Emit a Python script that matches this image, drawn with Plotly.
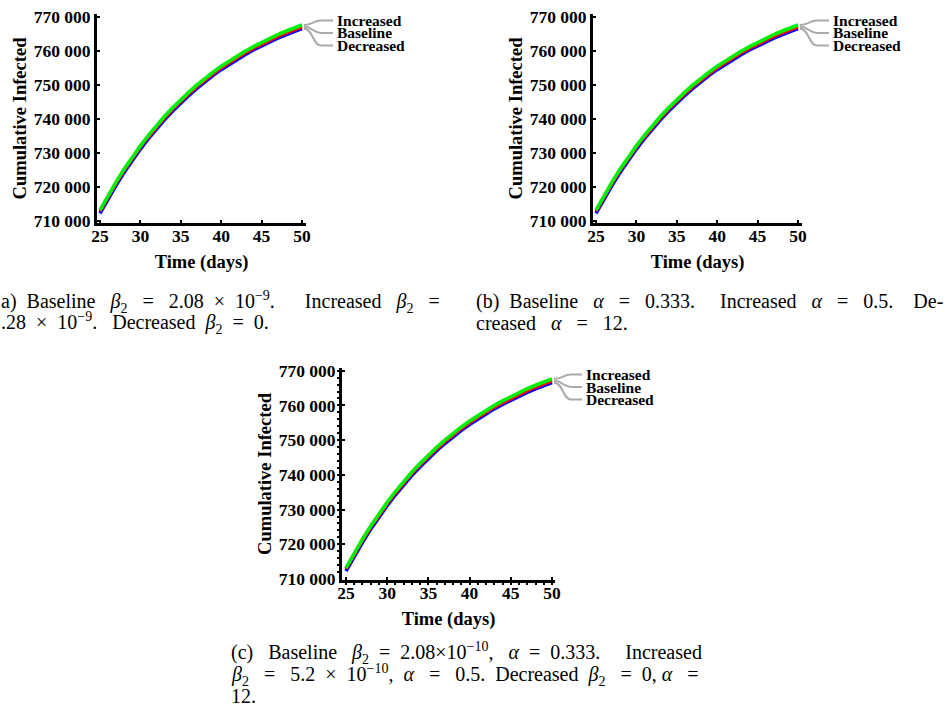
import plotly.graph_objects as go

# ---------------- data ----------------
days = list(range(25, 51))
increased = [713200, 717500, 721500, 725300, 728800, 732100, 735200, 738100, 740800, 743300,
             745700, 747900, 750000, 752000, 753800, 755500, 757100, 758600, 760000, 761300,
             762550, 763700, 764800, 765800, 766750, 767650]
baseline = [712900, 717200, 721200, 724980, 728470, 731760, 734850, 737740, 740430, 742920,
            745310, 747500, 749590, 751580, 753370, 755060, 756650, 758140, 759530, 760820,
            762060, 763200, 764290, 765280, 766220, 767110]
decreased = [712250, 716560, 720560, 724360, 727860, 731160, 734260, 737150, 739850, 742350,
             744740, 746940, 749030, 751030, 752830, 754520, 756120, 757610, 759010, 760300,
             761540, 762680, 763770, 764760, 765700, 766560]

series_names = ["Decreased", "Baseline", "Increased"]          # drawing order
series_values = {"Increased": increased, "Baseline": baseline, "Decreased": decreased}
series_colors = {"Increased": "#00ee00", "Baseline": "#ff0000", "Decreased": "#0000ff"}
label_order = ["Increased", "Baseline", "Decreased"]

x_ticks = [25, 30, 35, 40, 45, 50]
x_tick_labels = ["25", "30", "35", "40", "45", "50"]
y_ticks = [710000, 720000, 730000, 740000, 750000, 760000, 770000]
y_tick_labels = ["710 000", "720 000", "730 000", "740 000", "750 000", "760 000", "770 000"]
x_title = "Time (days)"
y_title = "Cumulative Infected"

# ---------------- layout geometry (pixels) ----------------
W, H = 949, 718
panels = [
    dict(left=97, right=306, top=14, bottom=223, xr=[24.63, 50.5], yr=[709412, 770882], minor=False),
    dict(left=593, right=802, top=14, bottom=223, xr=[24.63, 50.5], yr=[709412, 770882], minor=False),
    dict(left=342, right=555, top=368, bottom=580, xr=[24.515, 50.364], yr=[709712, 770778], minor=True),
]

N = "\u00a0"


def s(n):
    return " " + N * n


b2 = "<i>β</i><sub>2</sub>"
al = "<i>α</i>"
captions = [
    (0, [301.5, 323], [
        f"a){s(1)}Baseline{s(2)}{b2}{s(2)}={s(2)}2.08{s(1)}×{s(1)}10<sup>−9</sup>.{s(5)}Increased{s(2)}{b2}{s(2)}=",
        f".28{s(1)}×{s(1)}10<sup>−9</sup>.{s(2)}Decreased{s(1)}{b2}{s(1)}={s(1)}0.",
    ]),
    (475, [301.5, 323], [
        f"(b){s(1)}Baseline{s(2)}{al}{s(2)}={s(2)}0.333.{s(4)}Increased{s(2)}{al}{s(2)}={s(2)}0.5.{s(3)}De-",
        f"creased{s(2)}{al}{s(2)}={s(2)}12.",
    ]),
    (230, [653, 675, 696], [
        f"(c){s(2)}Baseline{s(2)}{b2}{s(1)}={s(1)}2.08×10<sup>−10</sup>,{s(2)}{al}{s(1)}={s(1)}0.333.{s(4)}Increased",
        f"{b2}{s(2)}={s(2)}5.2{s(1)}×{s(1)}10<sup>−10</sup>,{s(1)}{al}{s(2)}={s(2)}0.5.{s(1)}Decreased{s(1)}{b2}{s(2)}={s(1)}0,{s(0)}{al}{s(2)}=",
        "12.",
    ]),
]

bold = dict(family="Liberation Serif", color="black", weight="bold")

fig = go.Figure()
layout = dict(
    width=W, height=H, margin=dict(l=0, r=0, t=0, b=0, autoexpand=False),
    paper_bgcolor="white", plot_bgcolor="white", showlegend=False,
    annotations=[], shapes=[],
)


def px_x(p, xv):
    return p["left"] + (xv - p["xr"][0]) / (p["xr"][1] - p["xr"][0]) * (p["right"] - p["left"])


def px_y(p, yv):
    return p["bottom"] - (yv - p["yr"][0]) / (p["yr"][1] - p["yr"][0]) * (p["bottom"] - p["top"])


# check whether a negative tick-label standoff is accepted
try:
    go.layout.XAxis(ticklabelstandoff=-5)
    x_standoff = dict(ticklabelstandoff=-5)
except Exception:
    x_standoff = {}

for i, p in enumerate(panels):
    k = "" if i == 0 else str(i + 1)
    for name in series_names:
        fig.add_trace(go.Scatter(
            x=days, y=series_values[name], mode="lines", name=name,
            line=dict(color=series_colors[name], width=3.6),
            xaxis="x" + k, yaxis="y" + k, hoverinfo="x+y+name",
        ))
    common = dict(showline=True, linewidth=3, linecolor="black", ticks="inside", ticklen=3,
                  tickwidth=2, tickcolor="black", showgrid=False, zeroline=False,
                  automargin=False, tickfont=dict(bold, size=17.5))
    xa = dict(common, domain=[p["left"] / W, p["right"] / W], range=p["xr"], anchor="y" + k,
              tickvals=x_ticks, ticktext=x_tick_labels,
              title=dict(text=x_title, font=dict(bold, size=18.5), standoff=11), **x_standoff)
    ya = dict(common, domain=[1 - p["bottom"] / H, 1 - p["top"] / H], range=p["yr"], anchor="x" + k,
              tickvals=y_ticks, ticktext=y_tick_labels,
              title=dict(text=y_title, font=dict(bold, size=18.5), standoff=3))
    if p["minor"]:
        xa["minor"] = dict(dtick=1, ticks="outside", ticklen=2, tickwidth=1.5, tickcolor="black")
        ya["minor"] = dict(dtick=2000, ticks="outside", ticklen=2, tickwidth=1.5, tickcolor="black")
    layout["xaxis" + k] = xa
    layout["yaxis" + k] = ya

    # callout labels with gray leader lines
    offsets = [6.5, 19, 31.5]
    for name, off in zip(label_order, offsets):
        vals = series_values[name]
        sx = px_x(p, days[-1]) + 2
        sy = px_y(p, vals[-1])
        ly = p["top"] + off
        ex = p["right"] + 27
        path = (f"M {sx / W:.5f},{1 - sy / H:.5f} "
                f"C {(sx + 9) / W:.5f},{1 - sy / H:.5f} {(sx + 9) / W:.5f},{1 - ly / H:.5f} {(sx + 17) / W:.5f},{1 - ly / H:.5f} "
                f"L {ex / W:.5f},{1 - ly / H:.5f}")
        layout["shapes"].append(dict(type="path", xref="paper", yref="paper", path=path,
                                     line=dict(color="#aaaaaa", width=2)))
        layout["annotations"].append(dict(
            xref="paper", yref="paper", x=(p["right"] + 29) / W, y=1 - ly / H,
            xanchor="left", yanchor="middle", showarrow=False, text=name,
            font=dict(bold, size=15.5)))

for x0, ys, lines in captions:
    for yy, txt in zip(ys, lines):
        layout["annotations"].append(dict(
            xref="paper", yref="paper", x=x0 / W, y=1 - yy / H, xanchor="left", yanchor="middle",
            showarrow=False, text=txt, borderpad=0,
            font=dict(family="Liberation Serif", size=20, color="black")))

fig.update_layout(**layout)
fig.write_html("out.html",
               post_script="document.body.style.margin='0';document.body.style.padding='0';")
